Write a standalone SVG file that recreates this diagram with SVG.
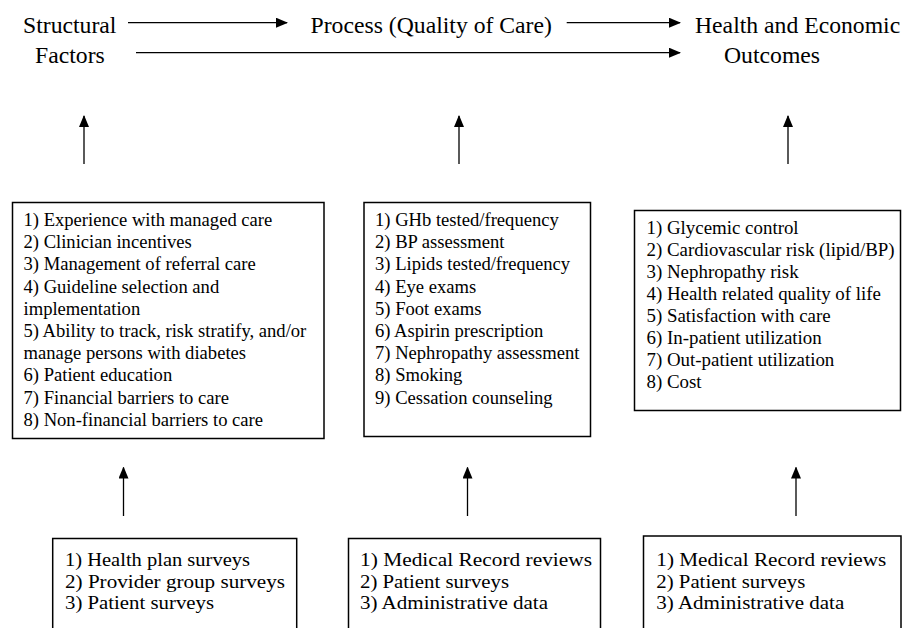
<svg xmlns="http://www.w3.org/2000/svg" width="903" height="628" viewBox="0 0 903 628">
<style>
text{font-family:"Liberation Serif","Times New Roman",serif;fill:#000}
.t{font-size:23.7px}
.b{font-size:18.6px}
.c{font-size:18.9px}
.s{font-size:19.4px}
.box{fill:#fff;stroke:#000;stroke-width:1.5}
.ln{fill:none;stroke:#000;stroke-width:1.3}
</style>
<defs>
<marker id="ah" viewBox="0 0 12 10" refX="11" refY="5" markerWidth="12" markerHeight="10" markerUnits="userSpaceOnUse" orient="auto">
<path d="M0,0 L12,5 L0,10 Z" fill="#000"/>
</marker>
</defs>
<rect width="903" height="628" fill="#fff"/>
<g id="title-structural">
<text class="t" x="23" y="33">Structural</text>
<text class="t" x="35" y="63">Factors</text>
</g>
<g id="title-process">
<text class="t" x="310.5" y="33">Process (Quality of Care)</text>
</g>
<g id="title-outcomes">
<text class="t" x="695" y="33">Health and Economic</text>
<text class="t" x="724" y="63">Outcomes</text>
</g>
<g id="box-structural">
<rect class="box" x="12.5" y="202.5" width="311.5" height="236"/>
<text class="b" x="23.5" y="226">1) Experience with managed care</text>
<text class="b" x="23.5" y="248.2">2) Clinician incentives</text>
<text class="b" x="23.5" y="270.4">3) Management of referral care</text>
<text class="b" x="23.5" y="292.6">4) Guideline selection and</text>
<text class="b" x="23.5" y="314.8">implementation</text>
<text class="b" x="23.5" y="337">5) Ability to track, risk stratify, and/or</text>
<text class="b" x="23.5" y="359.2">manage persons with diabetes</text>
<text class="b" x="23.5" y="381.4">6) Patient education</text>
<text class="b" x="23.5" y="403.6">7) Financial barriers to care</text>
<text class="b" x="23.5" y="425.8">8) Non-financial barriers to care</text>
</g>
<g id="box-process">
<rect class="box" x="364" y="202.5" width="226.5" height="234"/>
<text class="b" x="375" y="226">1) GHb tested/frequency</text>
<text class="b" x="375" y="248.2">2) BP assessment</text>
<text class="b" x="375" y="270.4">3) Lipids tested/frequency</text>
<text class="b" x="375" y="292.6">4) Eye exams</text>
<text class="b" x="375" y="314.8">5) Foot exams</text>
<text class="b" x="375" y="337">6) Aspirin prescription</text>
<text class="b" x="375" y="359.2">7) Nephropathy assessment</text>
<text class="b" x="375" y="381.4">8) Smoking</text>
<text class="b" x="375" y="403.6">9) Cessation counseling</text>
</g>
<g id="box-outcomes">
<rect class="box" x="634.5" y="210.5" width="266" height="200"/>
<text class="c" x="646.5" y="233.5">1) Glycemic control</text>
<text class="c" x="646.5" y="255.5">2) Cardiovascular risk (lipid/BP)</text>
<text class="c" x="646.5" y="277.5">3) Nephropathy risk</text>
<text class="c" x="646.5" y="299.5">4) Health related quality of life</text>
<text class="c" x="646.5" y="321.5">5) Satisfaction with care</text>
<text class="c" x="646.5" y="343.5">6) In-patient utilization</text>
<text class="c" x="646.5" y="365.5">7) Out-patient utilization</text>
<text class="c" x="646.5" y="387.5">8) Cost</text>
</g>
<g id="src-structural">
<rect class="box" x="52.7" y="538.5" width="244" height="100"/>
<text class="s" x="65" y="566" textLength="185" lengthAdjust="spacingAndGlyphs">1) Health plan surveys</text>
<text class="s" x="65" y="587.7" textLength="220" lengthAdjust="spacingAndGlyphs">2) Provider group surveys</text>
<text class="s" x="65" y="609.4" textLength="149" lengthAdjust="spacingAndGlyphs">3) Patient surveys</text>
</g>
<g id="src-process">
<rect class="box" x="348.5" y="538.5" width="252" height="100"/>
<text class="s" x="360" y="566" textLength="232" lengthAdjust="spacingAndGlyphs">1) Medical Record reviews</text>
<text class="s" x="360" y="587.7" textLength="149" lengthAdjust="spacingAndGlyphs">2) Patient surveys</text>
<text class="s" x="360" y="609.4" textLength="188" lengthAdjust="spacingAndGlyphs">3) Administrative data</text>
</g>
<g id="src-outcomes">
<rect class="box" x="643.5" y="536" width="257.5" height="100"/>
<text class="s" x="656.3" y="566" textLength="230" lengthAdjust="spacingAndGlyphs">1) Medical Record reviews</text>
<text class="s" x="656.3" y="587.7" textLength="149" lengthAdjust="spacingAndGlyphs">2) Patient surveys</text>
<text class="s" x="656.3" y="609.4" textLength="188" lengthAdjust="spacingAndGlyphs">3) Administrative data</text>
</g>
<g id="connectors">
<line class="ln" x1="128" y1="22.7" x2="287" y2="22.7" marker-end="url(#ah)"/>
<line class="ln" x1="566.7" y1="22.7" x2="680" y2="22.7" marker-end="url(#ah)"/>
<line class="ln" x1="136" y1="52.7" x2="680" y2="52.7" marker-end="url(#ah)"/>
<line class="ln" x1="84" y1="164" x2="84" y2="116" marker-end="url(#ah)"/>
<line class="ln" x1="459" y1="164" x2="459" y2="116" marker-end="url(#ah)"/>
<line class="ln" x1="788" y1="164" x2="788" y2="116" marker-end="url(#ah)"/>
<line class="ln" x1="123.5" y1="516" x2="123.5" y2="467.5" marker-end="url(#ah)"/>
<line class="ln" x1="467.5" y1="516" x2="467.5" y2="467.5" marker-end="url(#ah)"/>
<line class="ln" x1="796" y1="516" x2="796" y2="467.5" marker-end="url(#ah)"/>
</g>
</svg>
